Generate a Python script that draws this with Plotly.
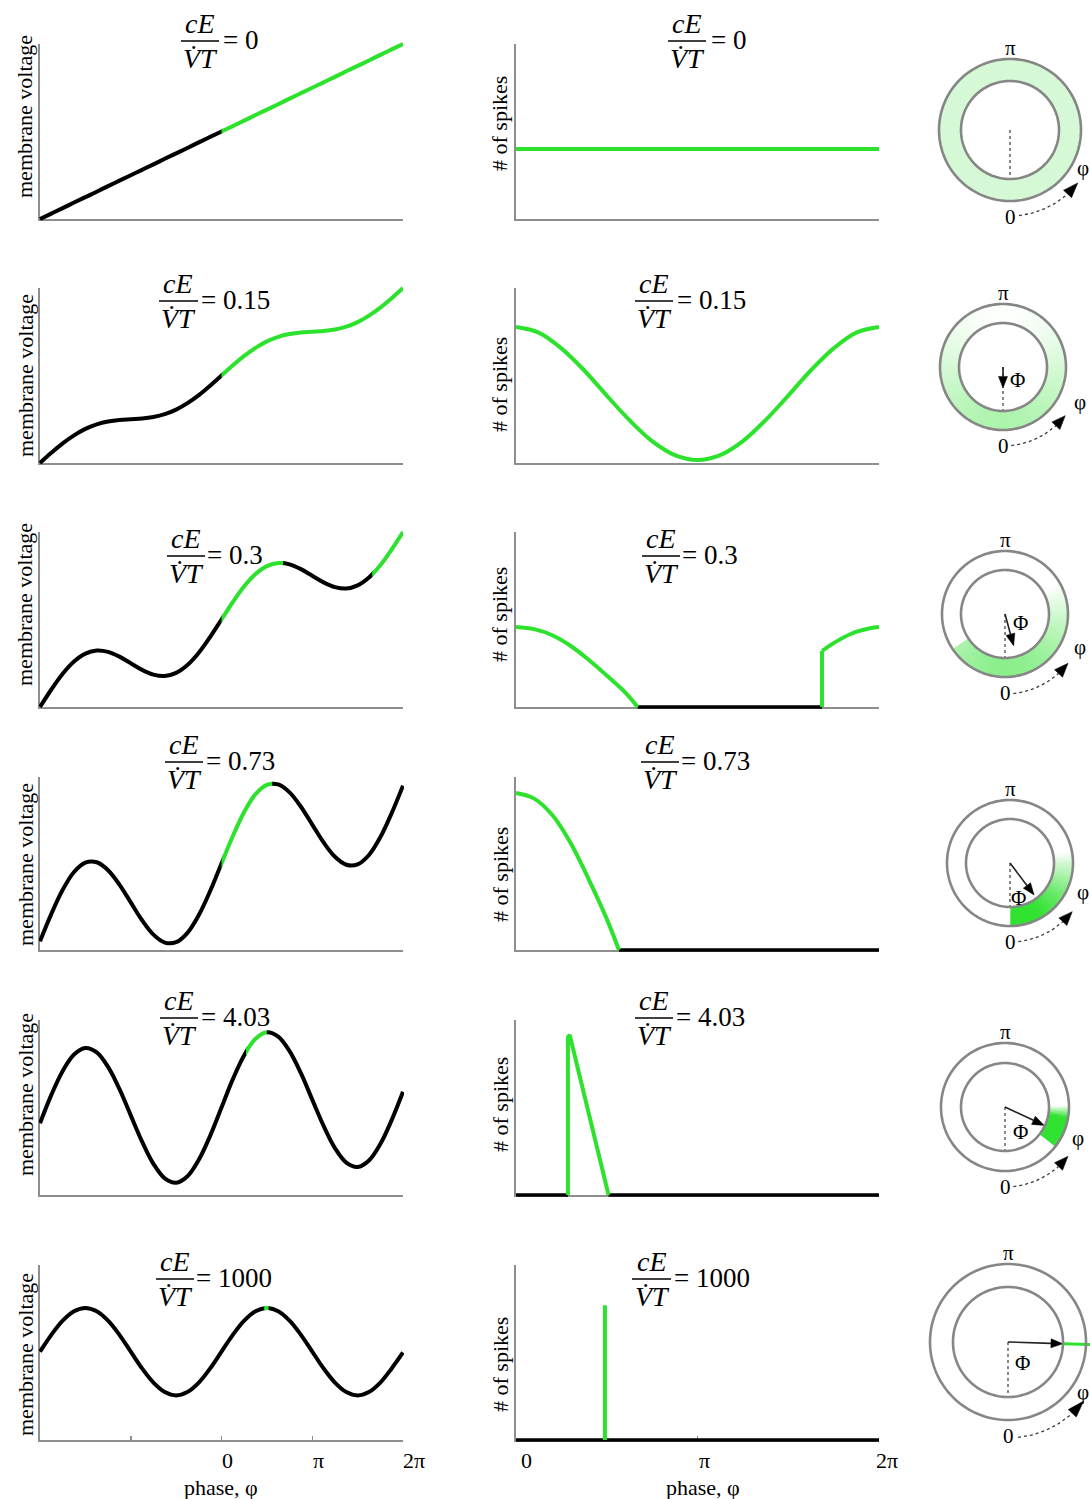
import numpy as np
import plotly.graph_objects as go

W, H = 1090, 1499
PI = np.pi
SERIF = "Liberation Serif, 'Times New Roman', Times, serif"
GREEN = "rgb(45,226,45)"
GREEN_RGB = (45, 226, 45)
AXIS_GREY = "#8e8e8e"
RING_GREY = "#868686"
DOT_GREY = "#3a3a3a"

# ---------------- data ----------------
ratio_labels = ["0", "0.15", "0.3", "0.73", "4.03", "1000"]

# membrane voltage (normalised 0..1), read every pi/8 over phase [-2pi, 2pi]
voltage_phase = [-2.0, -1.875, -1.75, -1.625, -1.5, -1.375, -1.25, -1.125,
                 -1.0, -0.875, -0.75, -0.625, -0.5, -0.375, -0.25, -0.125,
                 0.0, 0.125, 0.25, 0.375, 0.5, 0.625, 0.75, 0.875,
                 1.0, 1.125, 1.25, 1.375, 1.5, 1.625, 1.75, 1.875, 2.0]   # in units of pi
voltage_row1 = [0.0, 0.031, 0.062, 0.094, 0.125, 0.156, 0.188, 0.219,
                0.25, 0.281, 0.312, 0.344, 0.375, 0.406, 0.438, 0.469,
                0.5, 0.531, 0.562, 0.594, 0.625, 0.656, 0.688, 0.719,
                0.75, 0.781, 0.812, 0.844, 0.875, 0.906, 0.938, 0.969, 1.0]
voltage_row2 = [0.0, 0.058, 0.112, 0.158, 0.195, 0.221, 0.237, 0.246,
                0.25, 0.254, 0.263, 0.279, 0.305, 0.342, 0.388, 0.442,
                0.5, 0.558, 0.612, 0.658, 0.695, 0.721, 0.737, 0.746,
                0.75, 0.754, 0.763, 0.779, 0.805, 0.842, 0.888, 0.942, 1.0]
voltage_row3 = [0.0, 0.100, 0.190, 0.260, 0.305, 0.323, 0.315, 0.288,
                0.25, 0.212, 0.185, 0.177, 0.195, 0.240, 0.310, 0.400,
                0.5, 0.600, 0.690, 0.760, 0.805, 0.823, 0.815, 0.788,
                0.75, 0.712, 0.685, 0.677, 0.695, 0.740, 0.810, 0.900, 1.0]
voltage_row4 = [0.05, 0.209, 0.348, 0.451, 0.505, 0.507, 0.461, 0.378,
                0.275, 0.172, 0.089, 0.043, 0.045, 0.099, 0.202, 0.341,
                0.50, 0.659, 0.798, 0.901, 0.955, 0.957, 0.911, 0.828,
                0.725, 0.622, 0.539, 0.493, 0.495, 0.549, 0.652, 0.791, 0.95]
voltage_row5 = [0.41, 0.572, 0.709, 0.803, 0.840, 0.815, 0.732, 0.606,
                0.455, 0.305, 0.178, 0.095, 0.070, 0.107, 0.201, 0.338,
                0.50, 0.662, 0.799, 0.893, 0.930, 0.905, 0.822, 0.696,
                0.545, 0.395, 0.268, 0.185, 0.160, 0.197, 0.291, 0.428, 0.59]
voltage_row6 = [0.505, 0.601, 0.682, 0.736, 0.755, 0.736, 0.682, 0.601,
                0.505, 0.409, 0.328, 0.274, 0.255, 0.274, 0.328, 0.409,
                0.505, 0.601, 0.682, 0.736, 0.755, 0.736, 0.682, 0.601,
                0.505, 0.409, 0.328, 0.274, 0.255, 0.274, 0.328, 0.409, 0.50]

# phase windows (units of pi) in which the cell fires (drawn green)
firing_row1 = [(0.0, 2.0)]
firing_row2 = [(0.0, 2.0)]
firing_row3 = [(0.0, 0.69), (1.66, 2.0)]
firing_row4 = [(0.0, 0.57)]
firing_row5 = [(0.27, 0.51)]
firing_row6 = [(0.47, 0.53)]

# number of spikes vs phase (phase in units of pi, value normalised)
spikes_row1 = [([0.0, 2.0], [0.40, 0.40])]
spikes_row2 = [([0.0, 0.125, 0.25, 0.375, 0.5, 0.625, 0.75, 0.875, 1.0,
                 1.125, 1.25, 1.375, 1.5, 1.625, 1.75, 1.875, 2.0],
                [0.777, 0.745, 0.655, 0.53, 0.385, 0.245, 0.125, 0.045, 0.017,
                 0.045, 0.125, 0.245, 0.385, 0.53, 0.655, 0.745, 0.777])]
spikes_row3 = [([0.0, 0.1, 0.2, 0.3, 0.4, 0.5, 0.6, 0.67],
                [0.457, 0.445, 0.41, 0.35, 0.27, 0.18, 0.085, 0.0]),
               ([1.686, 1.686], [0.0, 0.32]),
               ([1.686, 1.75, 1.85, 1.95, 2.0], [0.32, 0.365, 0.42, 0.45, 0.457])]
spikes_row4 = [([0.0, 0.1, 0.2, 0.3, 0.4, 0.5, 0.567],
                [0.907, 0.875, 0.78, 0.62, 0.41, 0.18, 0.0])]
spikes_row5 = [([0.286, 0.286, 0.296, 0.51], [0.0, 0.90, 0.914, 0.0])]
spikes_row6 = [([0.49, 0.49], [0.0, 0.77])]

# phase ranges (units of pi) with zero spikes (black baseline)
silent_row1 = []
silent_row2 = []
silent_row3 = [(0.67, 1.686)]
silent_row4 = [(0.567, 2.0)]
silent_row5 = [(0.0, 0.286), (0.51, 2.0)]
silent_row6 = [(0.0, 2.0)]

rows_voltage = [voltage_row1, voltage_row2, voltage_row3, voltage_row4, voltage_row5, voltage_row6]
rows_firing = [firing_row1, firing_row2, firing_row3, firing_row4, firing_row5, firing_row6]
rows_spikes = [spikes_row1, spikes_row2, spikes_row3, spikes_row4, spikes_row5, spikes_row6]
rows_silent = [silent_row1, silent_row2, silent_row3, silent_row4, silent_row5, silent_row6]

# ---------------- geometry (pixels) ----------------
LEFT_X = (40, 403)
MID_X = (516, 879)
ROW_Y = [(44, 219), (288, 463), (532, 707), (777, 950), (1020, 1195), (1265, 1440)]
PAD = 12

ring_center = [(1010, 130), (1003, 367), (1005, 614), (1010, 863), (1005, 1107), (1008, 1342)]
ring_outer = [71, 63, 63, 63, 64, 78]
ring_inner = [49, 44, 44, 44, 44, 55]
ring_arc_gap = [15, 16, 17, 16, 16, 18]
ring_phi_label = [(73, 38), (77, 35), (75, 33), (73, 29), (73, 31), (75, 50)]
ring_Phi_label = [None, (14, 13), (15, 9), (8, 35), (15, 25), (14, 21)]

frac_left = [(200, 41, 181, 219, 222), (178, 301, 159, 198, 200), (186, 556, 167, 205, 206),
             (184, 762, 165, 203, 205), (179, 1018, 160, 198, 200), (175, 1279, 156, 194, 195)]
frac_mid = [(687, 41, 668, 706, 710), (654, 301, 635, 673, 676), (661, 556, 642, 680, 681),
            (660, 762, 641, 679, 680), (654, 1018, 635, 673, 675), (652, 1279, 632, 671, 673)]
mv_label_y = [117, 376, 605, 865, 1095, 1355]
sp_label_y = [124, 385, 615, 875, 1105, 1365]

layout = dict(width=W, height=H, autosize=False,
              margin=dict(l=0, r=0, t=0, b=0, pad=0),
              paper_bgcolor="white", plot_bgcolor="rgba(0,0,0,0)", showlegend=False)
traces, annotations, shapes = [], [], []
counter = [0]


def add_axes(xd, yd, xr, yr, xextra=None, yextra=None):
    counter[0] += 1
    n = counter[0]
    sx = "" if n == 1 else str(n)
    base = dict(showgrid=False, zeroline=False, showticklabels=False, ticks="",
                fixedrange=True, visible=False)
    xa = dict(base, domain=[xd[0] / W, xd[1] / W], range=list(xr), anchor="y" + sx)
    ya = dict(base, domain=[1 - yd[1] / H, 1 - yd[0] / H], range=list(yr), anchor="x" + sx)
    if xextra:
        xa.update(xextra)
    if yextra:
        ya.update(yextra)
    layout["xaxis" + sx] = xa
    layout["yaxis" + sx] = ya
    return "x" + sx, "y" + sx


def text(x, y, s, size=22, xanchor="center", yanchor="middle", angle=0):
    annotations.append(dict(x=x / W, y=1 - y / H, xref="paper", yref="paper", text=s,
                            showarrow=False, xanchor=xanchor, yanchor=yanchor,
                            textangle=angle, borderpad=0,
                            font=dict(family=SERIF, size=size, color="black")))


def fraction(spec, value):
    cx, by, x0, x1, ex = spec
    text(cx, by - 18, "<i>cE</i>", size=28)
    text(cx, by + 17, "<i>V\u0307T</i>", size=28)
    shapes.append(dict(type="line", xref="paper", yref="paper", x0=x0 / W, x1=x1 / W,
                       y0=1 - by / H, y1=1 - by / H, line=dict(color="black", width=1.5)))
    text(ex, by - 1, "= " + value, size=27, xanchor="left")


def left_px(p):
    return LEFT_X[0] + (p + 2.0) / 4.0 * (LEFT_X[1] - LEFT_X[0])


AXLINE = dict(visible=True, showline=True, linecolor=AXIS_GREY, linewidth=2, layer="below traces")
s_left = (LEFT_X[1] - LEFT_X[0]) / (4 * PI)
s_mid = (MID_X[1] - MID_X[0]) / (2 * PI)

# ---------- left & middle axis frames ----------
for i in range(6):
    top, bot = ROW_Y[i]
    last = i == 5
    xk = dict(AXLINE)
    if last:
        xk.update(ticks="inside", tickvals=[-PI, 0, PI, 2 * PI], ticklen=4,
                  tickwidth=1.5, tickcolor=AXIS_GREY)
    xr, yr = add_axes(LEFT_X, (top, bot), (-2 * PI, 2 * PI), (0, 1), xk, dict(AXLINE))
    traces.append(go.Scatter(x=[None], y=[None], xaxis=xr, yaxis=yr, hoverinfo="skip"))
    xk = dict(AXLINE)
    if last:
        xk.update(ticks="inside", tickvals=[PI], ticklen=4, tickwidth=1.5, tickcolor=AXIS_GREY)
    xr, yr = add_axes(MID_X, (top, bot), (0, 2 * PI), (0, 1), xk, dict(AXLINE))
    traces.append(go.Scatter(x=[None], y=[None], xaxis=xr, yaxis=yr, hoverinfo="skip"))

# ---------- data ----------
for i in range(6):
    top, bot = ROW_Y[i]
    hgt = bot - top
    segs, cur = [], -2.0
    for a, b in rows_firing[i]:
        if a > cur:
            segs.append((cur, a, "black"))
        segs.append((a, b, GREEN))
        cur = b
    if cur < 2.0:
        segs.append((cur, 2.0, "black"))
    for a, b, col in segs:
        e = 1.0 if col == "black" else 0.0
        xr, yr = add_axes((left_px(a) - e, left_px(b) + e), (top - PAD, bot + PAD),
                          (a * PI - e / s_left, b * PI + e / s_left),
                          (-PAD / hgt, 1 + PAD / hgt))
        traces.append(go.Scatter(x=np.array(voltage_phase) * PI, y=rows_voltage[i], mode="lines",
                                 line=dict(color=col, width=4, shape="spline", simplify=False),
                                 xaxis=xr, yaxis=yr, hoverinfo="skip"))
    xr, yr = add_axes((MID_X[0] - PAD, MID_X[1] + PAD), (top - PAD, bot + PAD),
                      (-PAD / s_mid, 2 * PI + PAD / s_mid), (-PAD / hgt, 1 + PAD / hgt))
    for a, b in rows_silent[i]:
        traces.append(go.Scatter(x=[a * PI, b * PI], y=[0, 0], mode="lines",
                                 line=dict(color="black", width=3.5),
                                 xaxis=xr, yaxis=yr, hoverinfo="skip"))
    for xs, ys in rows_spikes[i]:
        shp = "spline" if (len(xs) > 3 and len(set(xs)) == len(xs)) else "linear"
        traces.append(go.Scatter(x=np.array(xs) * PI, y=ys, mode="lines",
                                 line=dict(color=GREEN, width=4, shape=shp),
                                 xaxis=xr, yaxis=yr, hoverinfo="skip"))
    fraction(frac_left[i], ratio_labels[i])
    fraction(frac_mid[i], ratio_labels[i])
    text(25, mv_label_y[i], "membrane voltage", size=22, angle=-90)
    text(500, sp_label_y[i], "# of spikes", size=22, angle=-90)

for x, s in [(227, "0"), (318, "\u03c0"), (414, "2\u03c0"), (526, "0"), (704, "\u03c0"), (887, "2\u03c0")]:
    text(x, 1460, s, size=22)
text(221, 1487, "phase, \u03c6", size=22)
text(703, 1487, "phase, \u03c6", size=22)

# ---------- rings ----------
xo, yo = add_axes((880, 1090), (0, H), (880, 1090), (H, 0))
grid = np.linspace(0.0, 2.0, 3601)
bin_deg = np.arange(1, 360, 2)


def rate_on_grid(segments, g):
    out = np.zeros_like(g)
    for xs, ys in segments:
        xs = np.asarray(xs, float)
        ys = np.asarray(ys, float)
        if xs.max() - xs.min() < 1e-9:
            continue
        m = (g >= xs.min()) & (g <= xs.max())
        out[m] = np.maximum(out[m], np.interp(g[m], xs, ys))
    return out


def screen_dir(phase):
    a = phase - PI / 2
    return np.cos(a), -np.sin(a)


def tri(tip, base, hw):
    ux, uy = tip[0] - base[0], tip[1] - base[1]
    L = np.hypot(ux, uy)
    nx, ny = -uy / L, ux / L
    return ([base[0] + nx * hw, tip[0], base[0] - nx * hw, base[0] + nx * hw],
            [base[1] + ny * hw, tip[1], base[1] - ny * hw, base[1] + ny * hw])


for i in range(6):
    cx, cy = ring_center[i]
    Ro, Ri = ring_outer[i], ring_inner[i]
    pname = "polar" if i == 0 else "polar%d" % (i + 1)
    hh = Ro + 3
    layout[pname] = dict(domain=dict(x=[(cx - hh) / W, (cx + hh) / W],
                                     y=[1 - (cy + hh) / H, 1 - (cy - hh) / H]),
                         bgcolor="rgba(0,0,0,0)", hole=0,
                         radialaxis=dict(visible=False, range=[0, hh]),
                         angularaxis=dict(visible=False, rotation=-90, direction="counterclockwise"))
    f = rate_on_grid(rows_spikes[i], grid)
    area = np.trapezoid(f, grid * PI)
    delta = area < 1e-9
    if not delta:
        dens = f / area
        C = np.trapezoid(dens * np.cos(grid * PI), grid * PI)
        S = np.trapezoid(dens * np.sin(grid * PI), grid * PI)
        strength, Phi = np.hypot(C, S), np.arctan2(S, C)
        t = np.clip(np.interp(bin_deg / 180.0, grid, dens) / 0.8, 0, 1)
        cols = ["rgb(%d,%d,%d)" % tuple(int(round(255 - tt * (255 - c))) for c in GREEN_RGB) for tt in t]
        traces.append(go.Barpolar(theta=bin_deg, r=[Ro - Ri] * len(bin_deg), base=Ri,
                                  width=[2] * len(bin_deg),
                                  marker=dict(color=cols, line=dict(color=cols, width=0.6)),
                                  subplot=pname, hoverinfo="skip"))
    else:
        Phi = rows_spikes[i][0][0][0] * PI
        strength = 1.0
    circ = np.arange(0, 361, 2)
    for rr in (Ri, Ro):
        traces.append(go.Scatterpolar(theta=circ, r=[rr] * len(circ), mode="lines",
                                      line=dict(color=RING_GREY, width=2.6),
                                      subplot=pname, hoverinfo="skip"))
    traces.append(go.Scatter(x=[cx, cx], y=[cy, cy + Ri], mode="lines",
                             line=dict(color=DOT_GREY, width=1.2, dash="dot"),
                             xaxis=xo, yaxis=yo, hoverinfo="skip"))
    Ra = Ro + ring_arc_gap[i]
    th = np.radians(np.linspace(-84, -48, 30))
    traces.append(go.Scatter(x=cx + Ra * np.cos(th), y=cy - Ra * np.sin(th), mode="lines",
                             line=dict(color=DOT_GREY, width=1.3, dash="dot"),
                             xaxis=xo, yaxis=yo, hoverinfo="skip"))
    tip_t, base_t = np.radians(-38), np.radians(-48)
    tx, ty = tri((cx + Ra * np.cos(tip_t), cy - Ra * np.sin(tip_t)),
                 (cx + Ra * np.cos(base_t), cy - Ra * np.sin(base_t)), 5.5)
    traces.append(go.Scatter(x=tx, y=ty, mode="lines", fill="toself", fillcolor="black",
                             line=dict(color="black", width=0.5), xaxis=xo, yaxis=yo, hoverinfo="skip"))
    if strength > 0.05:
        dx, dy = screen_dir(Phi)
        L = strength * Ri
        hl = min(12.0, 0.55 * L)
        tip = (cx + dx * L, cy + dy * L)
        base = (cx + dx * (L - hl), cy + dy * (L - hl))
        traces.append(go.Scatter(x=[cx, base[0]], y=[cy, base[1]], mode="lines",
                                 line=dict(color="#222222", width=1.6),
                                 xaxis=xo, yaxis=yo, hoverinfo="skip"))
        tx, ty = tri(tip, base, 4.5)
        traces.append(go.Scatter(x=tx, y=ty, mode="lines", fill="toself", fillcolor="black",
                                 line=dict(color="black", width=0.5), xaxis=xo, yaxis=yo,
                                 hoverinfo="skip"))
        if delta:
            traces.append(go.Scatter(x=[cx + dx * Ri, cx + dx * 120], y=[cy + dy * Ri, cy + dy * 120],
                                     mode="lines", line=dict(color=GREEN, width=3),
                                     xaxis=xo, yaxis=yo, hoverinfo="skip"))
    text(cx, cy - Ro - 11, "\u03c0", size=21)
    text(cx, cy + Ro + 16, "0", size=21)
    text(cx + ring_phi_label[i][0], cy + ring_phi_label[i][1], "\u03c6", size=21)
    if ring_Phi_label[i] is not None:
        text(cx + ring_Phi_label[i][0], cy + ring_Phi_label[i][1], "\u03a6", size=21)

layout["annotations"] = annotations
layout["shapes"] = shapes
fig = go.Figure(data=traces, layout=layout)
fig.write_html("out.html", config={"staticPlot": True},
               post_script="document.body.style.margin='0';document.body.style.overflow='hidden';")
